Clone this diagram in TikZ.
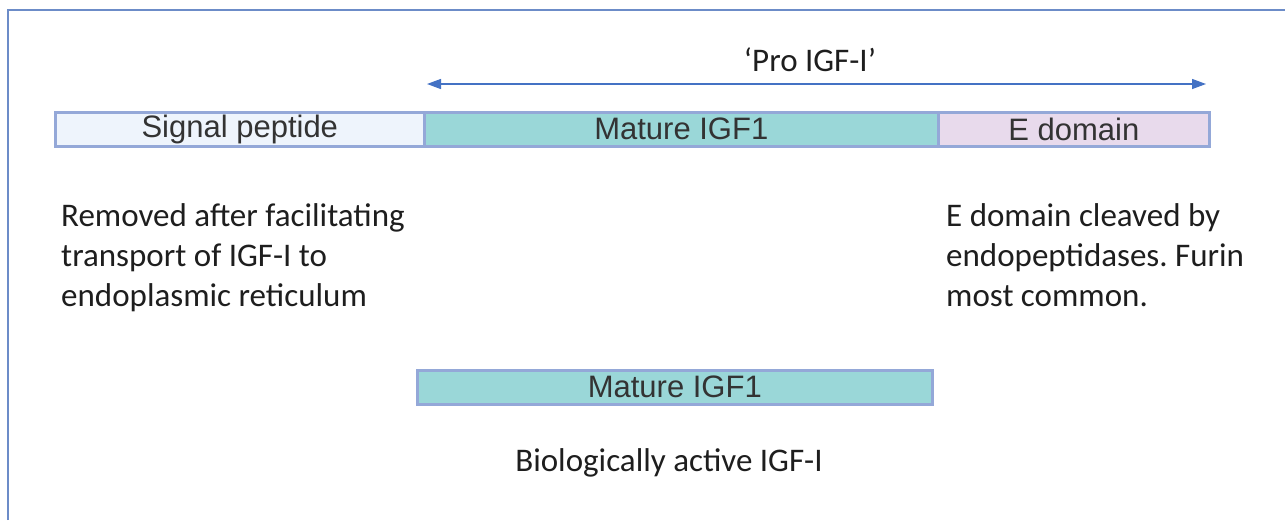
\documentclass[tikz,border=0pt]{standalone}
\usepackage{fontspec}
\setmainfont{Carlito}
\newfontfamily\boxfont{Liberation Sans}
\usetikzlibrary{arrows.meta}
\frenchspacing
\definecolor{frameblue}{HTML}{6C8CC8}
\definecolor{boxborder}{HTML}{94A8D8}
\definecolor{sigfill}{HTML}{EEF4FC}
\definecolor{matfill}{HTML}{9AD7D8}
\definecolor{efill}{HTML}{E8DAEC}
\definecolor{arrowblue}{HTML}{4472C4}
\definecolor{boxtext}{HTML}{333333}
\definecolor{bodytext}{HTML}{1E1E1E}
\tikzset{
  segbox/.style={draw=boxborder, line width=2.6pt, minimum height=34pt, inner sep=0pt,
    anchor=north west, text=boxtext, font=\boxfont\fontsize{31}{36}\selectfont},
  bodytxt/.style={inner sep=0pt, align=left, text=bodytext, font=\fontsize{33}{40}\selectfont},
  spanarrow/.style={arrowblue, line width=1.3pt, {Triangle[length=14pt,width=10pt]}-{Triangle[length=14pt,width=10pt]}}
}
\begin{document}
\begin{tikzpicture}[x=1pt,y=-1pt]
\useasboundingbox (0,0) rectangle (1285,520);
\fill[white] (0,0) rectangle (1285,520);
% frame
\draw[frameblue, line width=1.6pt] (8,520) -- (8,10) -- (1285,10);
% segments
\node[segbox, fill=sigfill, minimum width=369pt] (sig) at (54,111) {Signal peptide};
\node[segbox, fill=matfill, minimum width=514pt] (mat) at (423,111) {Mature IGF1};
\node[segbox, fill=efill, minimum width=271pt] (edom) at (937,111) {E domain};
\node[segbox, fill=matfill, minimum width=515pt] (mat2) at (416,369) {Mature IGF1};
% pro IGF-I span
\coordinate (pl) at (427,84);
\coordinate (pr) at (1206,84);
\draw[spanarrow] (pl) -- (pr);
\node[bodytxt] (pro) at (810,60) {‘Pro IGF-I’};
% texts
\node[bodytxt, anchor=north west] (t1) at (61,203) {Removed after facilitating\\transport of IGF-I to\\endoplasmic reticulum};
\node[bodytxt, anchor=north west] (t2) at (946,203) {E domain cleaved by\\endopeptidases. Furin\\most common.};
\node[bodytxt] (bio) at (669,463) {Biologically active IGF-I};
\end{tikzpicture}
\end{document}
